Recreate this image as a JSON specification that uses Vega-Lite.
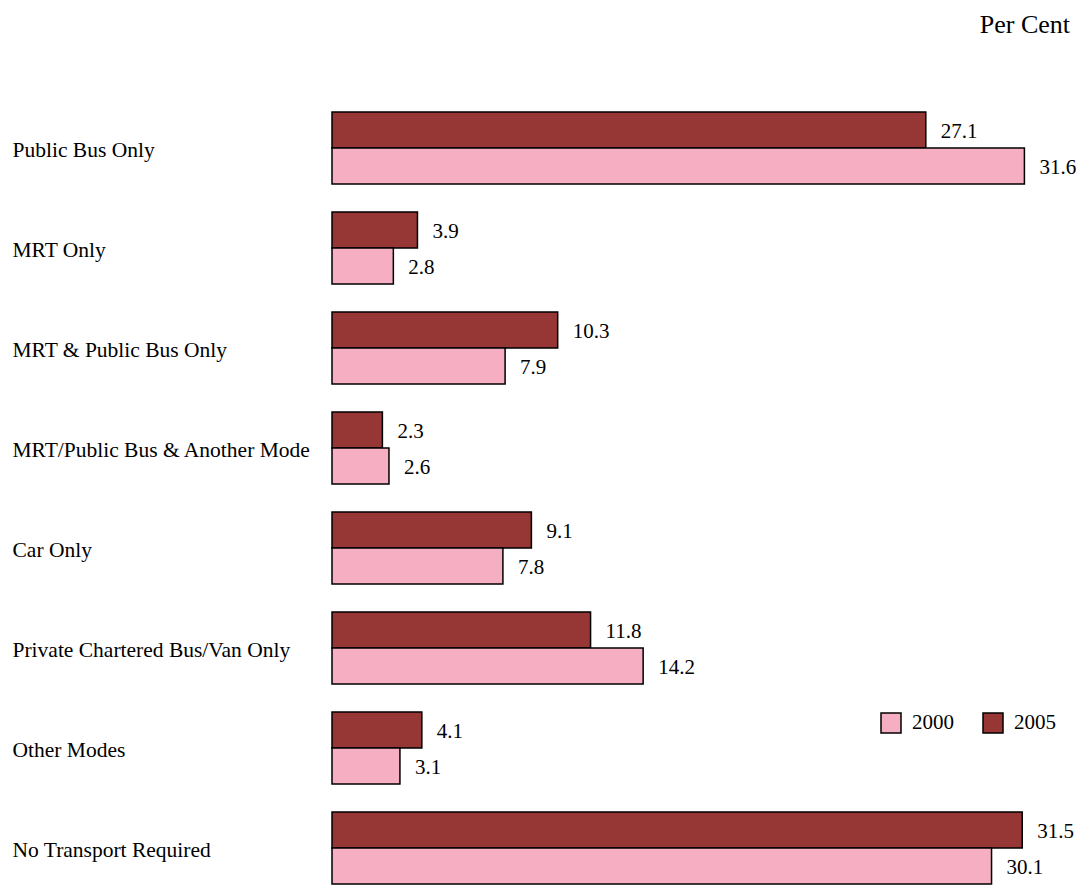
{
  "$schema": "https://vega.github.io/schema/vega-lite/v6.json",
  "autosize": "none",
  "padding": {"left": 332, "top": 98, "right": 0, "bottom": 0},
  "width": 745,
  "height": 800,
  "background": "white",
  "config": {"view": {"stroke": null}},
  "title": {"text": "Per Cent", "anchor": "end", "orient": "top", "offset": 60, "fontSize": 26, "font": "Liberation Serif", "fontWeight": "normal", "color": "black", "dx": -7},
  "data": {"values": [
    {"mode": "Public Bus Only", "year": "2005", "value": 27.1},
    {"mode": "Public Bus Only", "year": "2000", "value": 31.6},
    {"mode": "MRT Only", "year": "2005", "value": 3.9},
    {"mode": "MRT Only", "year": "2000", "value": 2.8},
    {"mode": "MRT & Public Bus Only", "year": "2005", "value": 10.3},
    {"mode": "MRT & Public Bus Only", "year": "2000", "value": 7.9},
    {"mode": "MRT/Public Bus & Another Mode", "year": "2005", "value": 2.3},
    {"mode": "MRT/Public Bus & Another Mode", "year": "2000", "value": 2.6},
    {"mode": "Car Only", "year": "2005", "value": 9.1},
    {"mode": "Car Only", "year": "2000", "value": 7.8},
    {"mode": "Private Chartered Bus/Van Only", "year": "2005", "value": 11.8},
    {"mode": "Private Chartered Bus/Van Only", "year": "2000", "value": 14.2},
    {"mode": "Other Modes", "year": "2005", "value": 4.1},
    {"mode": "Other Modes", "year": "2000", "value": 3.1},
    {"mode": "No Transport Required", "year": "2005", "value": 31.5},
    {"mode": "No Transport Required", "year": "2000", "value": 30.1}
  ]},
  "encoding": {
    "y": {"field": "mode", "type": "nominal", "sort": null,
      "scale": {"paddingInner": 0.28, "paddingOuter": 0.14},
      "axis": {"title": null, "domain": false, "ticks": false, "tickSize": 0, "labelPadding": 320, "labelAlign": "left", "labelOffset": 3, "labelFont": "Liberation Serif", "labelFontSize": 21.5, "labelColor": "black", "labelLimit": 400}},
    "yOffset": {"field": "year", "type": "nominal", "scale": {"domain": ["2005", "2000"], "paddingInner": 0, "paddingOuter": 0}},
    "x": {"field": "value", "type": "quantitative", "scale": {"domain": [0, 34], "nice": false}, "axis": null}
  },
  "layer": [
    {
      "mark": {"type": "bar", "stroke": "black", "strokeWidth": 1.5},
      "encoding": {
        "color": {"field": "year", "type": "nominal",
          "scale": {"domain": ["2000", "2005"], "range": ["#F6AEC3", "#963735"]},
          "legend": {"title": null, "orient": "none", "legendX": 548, "legendY": 614, "direction": "horizontal", "symbolType": "square", "symbolSize": 400, "symbolStrokeColor": "black", "symbolStrokeWidth": 1.5, "symbolOpacity": 1, "labelFont": "Liberation Serif", "labelFontSize": 21, "labelColor": "black", "labelOffset": 10, "columnPadding": 26, "padding": 0}}
      }
    },
    {
      "mark": {"type": "text", "align": "left", "baseline": "middle", "dx": 15, "dy": 2, "font": "Liberation Serif", "fontSize": 21, "color": "black"},
      "encoding": {
        "text": {"field": "value", "type": "quantitative", "format": ".1f"}
      }
    }
  ]
}
